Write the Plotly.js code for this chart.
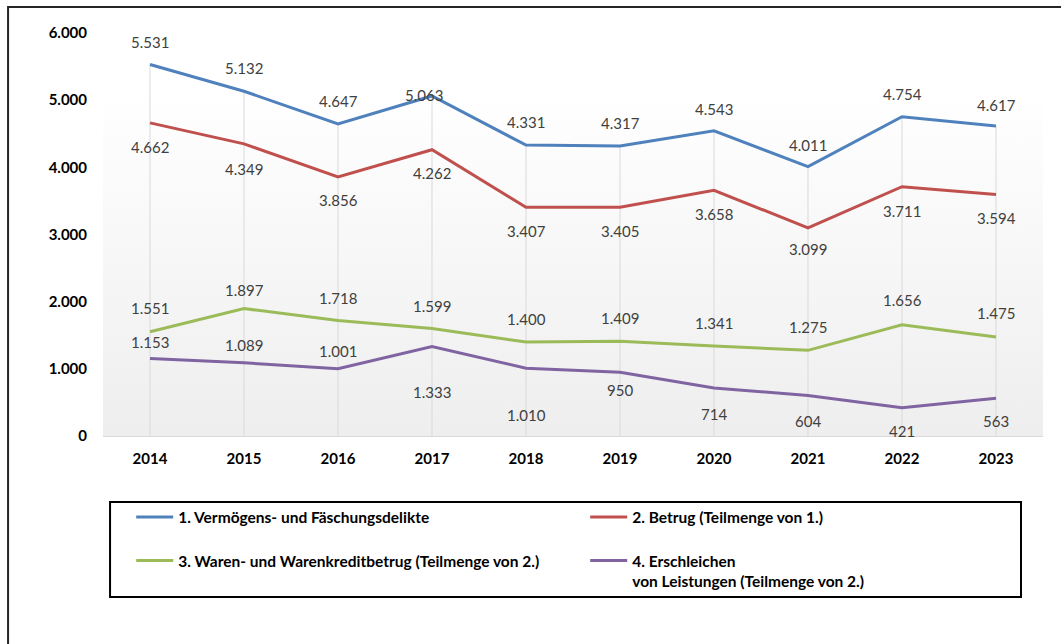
<!DOCTYPE html>
<html><head><meta charset="utf-8">
<script src="https://cdn.plot.ly/plotly-3.0.1.min.js"></script>
<style>html,body{margin:0;padding:0;background:#fff}#chart{width:1061px;height:644px}</style>
</head><body><div id="chart"></div>
<script>
// ---- data ----
const years = ['2014','2015','2016','2017','2018','2019','2020','2021','2022','2023'];
const vermoegen = [5531, 5132, 4647, 5063, 4331, 4317, 4543, 4011, 4754, 4617];
const betrug = [4662, 4349, 3856, 4262, 3407, 3405, 3658, 3099, 3711, 3594];
const waren = [1551, 1897, 1718, 1599, 1400, 1409, 1341, 1275, 1656, 1475];
const erschleichen = [1153, 1089, 1001, 1333, 1010, 950, 714, 604, 421, 563];
const seriesNames = [
  '1. Vermögens- und Fäschungsdelikte',
  '2. Betrug (Teilmenge von 1.)',
  '3. Waren- und Warenkreditbetrug (Teilmenge von 2.)',
  '4. Erschleichen<br>von Leistungen (Teilmenge von 2.)'
];
const yTicks = [0, 1000, 2000, 3000, 4000, 5000, 6000];

// ---- styling ----
const colors = ['#4F81BD', '#C0504D', '#9BBB59', '#8064A2'];
const FONT = 'Lato, "Open Sans", sans-serif';
const labelShift = [
  [23, 23, 23, 1, 23, 23, 22, 22, 23, 21],
  [-24, -25, -23, -23, -24, -24, -24, -21, -24, -23],
  [24, 19, 23, 23, 23, 23, 23, 23, 25, 24],
  [17, 18, 18, -46, -47, -18, -26, -26, -23, -23]
];
const labelXShift = [
  [0, 0, 0, -8, 0, 0, 0, 0, 0, 0],
  [0,0,0,0,0,0,0,0,0,0],
  [0,0,0,0,0,0,0,0,0,0],
  [0,0,0,0,0,0,0,0,0,0]
];

function de(n) { return String(n).replace(/\B(?=(\d{3})+(?!\d))/g, '.'); }

const allSeries = [vermoegen, betrug, waren, erschleichen];

const traces = [];
// drop lines from the top series down to the axis
traces.push({
  x: years.flatMap(y => [y, y, null]),
  y: vermoegen.flatMap(v => [v, 0, null]),
  mode: 'lines', line: {color: '#d9d9d9', width: 1},
  showlegend: false, hoverinfo: 'skip'
});
allSeries.forEach((vals, i) => {
  traces.push({
    x: years, y: vals, name: seriesNames[i],
    mode: 'lines', line: {color: colors[i], width: 3},
    legend: i < 2 ? 'legend' : 'legend2'
  });
});

const annotations = [];
allSeries.forEach((vals, s) => {
  vals.forEach((v, i) => {
    annotations.push({
      x: i, y: v, xref: 'x', yref: 'y', text: de(v), showarrow: false,
      yshift: labelShift[s][i], xshift: labelXShift[s][i],
      font: {family: FONT, size: 15, color: '#404040'}
    });
  });
});

const grad = 'data:image/svg+xml;charset=utf-8,' + encodeURIComponent(
  '<svg xmlns="http://www.w3.org/2000/svg" width="100" height="100" viewBox="0 0 100 100" preserveAspectRatio="none">' +
  '<defs><linearGradient id="g" x1="0" y1="0" x2="0" y2="1">' +
  '<stop offset="0" stop-color="#ffffff"/><stop offset="0.15" stop-color="#ffffff"/>' +
  '<stop offset="1" stop-color="#eeeeee"/></linearGradient></defs>' +
  '<rect width="100" height="100" fill="url(#g)"/></svg>');

const legendCommon = {
  orientation: 'h', xanchor: 'left', yanchor: 'top',
  bgcolor: 'rgba(0,0,0,0)', borderwidth: 0,
  font: {family: FONT, size: 15.5, color: '#000', weight: 'bold'},
  entrywidth: 402, entrywidthmode: 'pixels', valign: 'top', itemwidth: 37
};

const layout = {
  width: 1061, height: 644,
  margin: {l: 103, r: 18, t: 33, b: 208},
  paper_bgcolor: '#ffffff', plot_bgcolor: 'rgba(0,0,0,0)',
  separators: ',.',
  font: {family: FONT},
  xaxis: {
    type: 'category', range: [-0.5, 9.5], showgrid: false, zeroline: false,
    showline: true, linecolor: '#d9d9d9', linewidth: 1, ticks: '',
    tickfont: {family: FONT, size: 15, color: '#000', weight: 'bold'},
    ticklabelstandoff: 9
  },
  yaxis: {
    range: [0, 6000], showgrid: false, zeroline: false, showline: false,
    tickvals: yTicks, tickformat: ',d', ticks: '',
    tickfont: {family: FONT, size: 15, color: '#000', weight: 'bold'},
    ticklabelstandoff: 15
  },
  legend: Object.assign({x: 0.03, y: -0.16}, legendCommon),
  legend2: Object.assign({x: 0.03, y: -0.268}, legendCommon),
  images: [{source: grad, xref: 'paper', yref: 'paper', x: 0, y: 1, sizex: 1, sizey: 1,
            xanchor: 'left', yanchor: 'top', sizing: 'stretch', layer: 'below'}],
  shapes: [
    {type: 'rect', xref: 'paper', yref: 'paper', x0: -0.101, x1: 1.2, y0: -0.7, y1: 1.0645,
     line: {color: '#262626', width: 2}, fillcolor: 'rgba(0,0,0,0)', layer: 'above'},
    {type: 'rect', xref: 'paper', yref: 'paper', x0: 0.0075, x1: 0.9766, y0: -0.3995, y1: -0.1638,
     line: {color: '#000', width: 2}, fillcolor: 'rgba(0,0,0,0)', layer: 'above'}
  ],
  annotations: annotations,
  hovermode: false
};

Plotly.newPlot('chart', traces, layout, {displayModeBar: false, staticPlot: true});
</script>
</body></html>
